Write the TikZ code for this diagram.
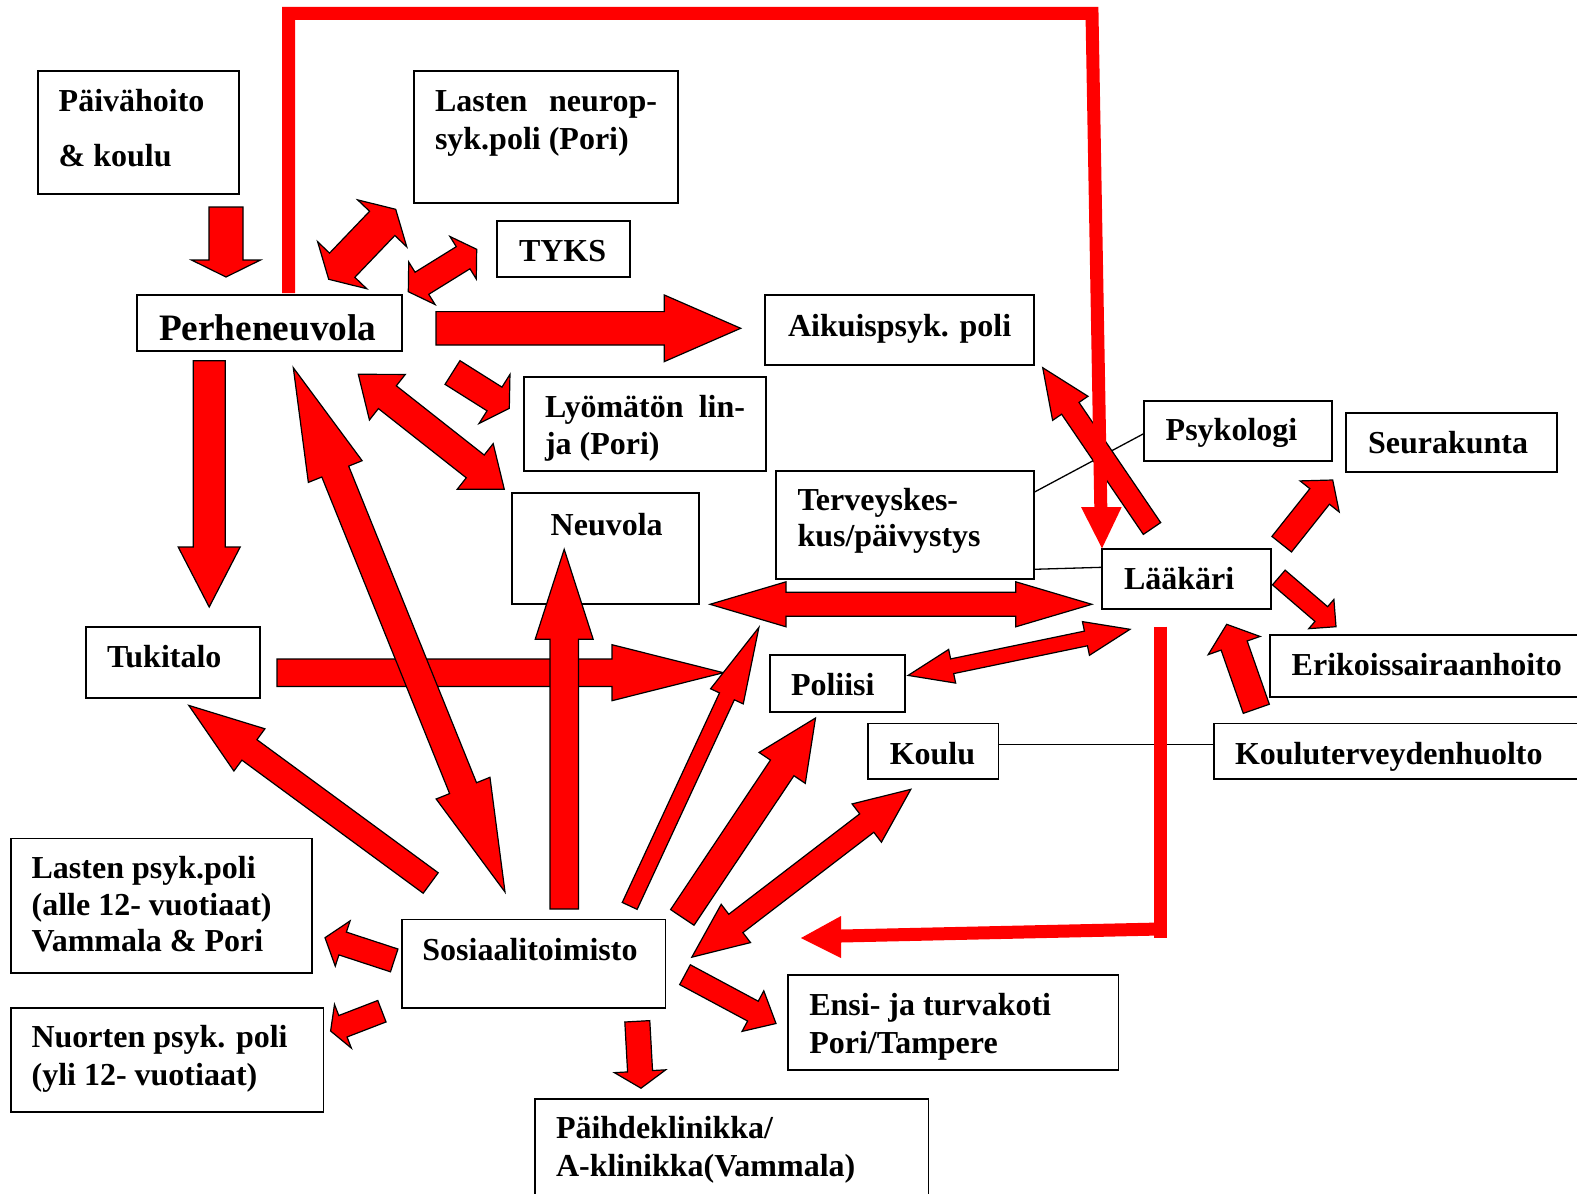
\documentclass[tikz,border=0pt]{standalone}
\usepackage{fontspec}
\setmainfont{Liberation Serif}
\usetikzlibrary{calc}
% single block arrow: #1 start, #2 tip, #3 shaft half width, #4 head half width, #5 head length
\newcommand\sarr[5]{\filldraw[barrow] ($(#1)!#3!90:(#2)$) -- ($(#2)!#5!(#1)!#3!-90:(#1)$) -- ($(#2)!#5!(#1)!#4!-90:(#1)$) -- (#2) -- ($(#2)!#5!(#1)!#4!90:(#1)$) -- ($(#2)!#5!(#1)!#3!90:(#1)$) -- ($(#1)!#3!-90:(#2)$) -- cycle;}
% double block arrow
\newcommand\darr[5]{\filldraw[barrow] (#1) -- ($(#1)!#5!(#2)!#4!90:(#2)$) -- ($(#1)!#5!(#2)!#3!90:(#2)$) -- ($(#2)!#5!(#1)!#3!-90:(#1)$) -- ($(#2)!#5!(#1)!#4!-90:(#1)$) -- (#2) -- ($(#2)!#5!(#1)!#4!90:(#1)$) -- ($(#2)!#5!(#1)!#3!90:(#1)$) -- ($(#1)!#5!(#2)!#3!-90:(#2)$) -- ($(#1)!#5!(#2)!#4!-90:(#2)$) -- cycle;}
\newcommand\bx[5]{\node[box, minimum width={(#4-#2)*1pt}, minimum height={(#5-#3)*1pt}] (#1) at (#2,#3) {};}
\begin{document}
\begin{tikzpicture}[x=1pt,y=-1pt,
  box/.style={draw=black, line width=1.6pt, fill=white, inner sep=0pt, outer sep=0pt, anchor=north west},
  txt/.style={anchor=base west, inner sep=0pt, outer sep=0pt, font=\fontsize{32}{36}\selectfont\bfseries},
  bigtxt/.style={txt, font=\fontsize{37.3}{42}\selectfont\bfseries},
  barrow/.style={fill=red, draw=black, line width=1.2pt, line join=miter},
  redline/.style={draw=red, line width=13pt, line join=miter},
  thin/.style={draw=black, line width=1.3pt}]
\fill[white] (0,0) rectangle (1577,1194);
\useasboundingbox (0,0) rectangle (1577,1194);

% ---------- boxes ----------
\bx{paiva}{38}{71}{239}{194}
\bx{lneuro}{414}{71}{678}{203}
\bx{tyks}{497}{221}{630}{277}
\bx{perhe}{137}{295}{402}{351}
\bx{aikuis}{765}{295}{1034}{365}
\bx{lyom}{524}{377}{766}{471}
\bx{psyk}{1144}{401}{1332}{461}
\bx{seura}{1346}{413}{1557}{472}
\bx{terv}{776}{471}{1034}{579}
\bx{neuv}{512}{493}{699}{604}
\bx{laak}{1102}{549}{1271}{609}
\bx{tuki}{86}{627}{260}{698}
\bx{polii}{770}{655}{905}{712}
\bx{erik}{1270}{635}{1595}{697}
\bx{kterv}{1214}{723.5}{1595}{779}
\bx{koulu}{868}{723.5}{998.5}{779}
\bx{lpsyk}{11}{838.5}{312}{973}
\bx{nuort}{11}{1008}{323.5}{1112}
\bx{sosi}{402}{919.5}{665.5}{1008}
\bx{ensi}{788}{975}{1118.5}{1070}
\bx{paihde}{534.7}{1099}{928.4}{1210}

% ---------- texts ----------
\node[txt] (t-paiva1) at (58.7,111.7) {Päivähoito};
\node[txt] (t-paiva2) at (58.7,166.7) {\& koulu};
\node[txt] (t-lneuro1) at (435,111.7) {\hbox to 222pt{Lasten\hfill neurop-}};
\node[txt] (t-lneuro2) at (435,149) {syk.poli (Pori)};
\node[txt] (t-tyks) at (519,261.7) {TYKS};
\node[bigtxt] (t-perhe) at (159,340) {Perheneuvola};
\node[txt] (t-aikuis) at (788,336) {Aikuispsyk. poli};
\node[txt] (t-lyom1) at (545,417.7) {\hbox to 200pt{Lyömätön\hfill lin-}};
\node[txt] (t-lyom2) at (545,454) {ja (Pori)};
\node[txt] (t-psyk) at (1165.7,440) {Psykologi};
\node[txt] (t-seura) at (1368,453.3) {Seurakunta};
\node[txt] (t-terv1) at (797.5,510) {Terveyskes-};
\node[txt] (t-terv2) at (797.5,546.7) {kus/päivystys};
\node[txt] (t-neuv) at (550.7,535) {Neuvola};
\node[txt] (t-laak) at (1124,589) {Lääkäri};
\node[txt] (t-tuki) at (107,667.6) {Tukitalo};
\node[txt] (t-polii) at (791,695) {Poliisi};
\node[txt] (t-erik) at (1291.7,675) {Erikoissairaanhoito};
\node[txt] (t-koulu) at (889.8,764) {Koulu};
\node[txt] (t-kterv) at (1235,764) {Kouluterveydenhuolto};
\node[txt] (t-lpsyk1) at (31.6,878) {Lasten psyk.poli};
\node[txt] (t-lpsyk2) at (31.6,915) {(alle 12- vuotiaat)};
\node[txt] (t-lpsyk3) at (31.6,951) {Vammala \& Pori};
\node[txt] (t-sosi) at (422.4,960.4) {Sosiaalitoimisto};
\node[txt] (t-nuort1) at (31.6,1047) {Nuorten psyk. poli};
\node[txt] (t-nuort2) at (31.6,1085.6) {(yli 12- vuotiaat)};
\node[txt] (t-ensi1) at (809.3,1015) {Ensi- ja turvakoti};
\node[txt] (t-ensi2) at (809.3,1053) {Pori/Tampere};
\node[txt] (t-paihde1) at (556,1138) {Päihdeklinikka/};
\node[txt] (t-paihde2) at (556,1176.5) {A-klinikka(Vammala)};

% ---------- thin connecting lines ----------
\coordinate (tv-e1) at (1034,492.3);
\coordinate (ps-w) at (1144,433.5);
\coordinate (tv-e2) at (1034,569.3);
\coordinate (lk-w) at (1102,567.3);
\coordinate (ko-e) at (998.5,744.3);
\coordinate (kt-w) at (1214,744.3);
\draw[thin] (tv-e1) -- (ps-w);
\draw[thin] (tv-e2) -- (lk-w);
\draw[thin] (ko-e) -- (kt-w);

% ---------- arrow end points ----------
\coordinate (a1s) at (226,207);      \coordinate (a1e) at (226,277);
\coordinate (a2s) at (328.7,279.3);  \coordinate (a2e) at (395.7,209.3);
\coordinate (a3s) at (408.3,291.7);  \coordinate (a3e) at (476.7,249.3);
\coordinate (a4s) at (436,328.3);    \coordinate (a4e) at (740.7,328.3);
\coordinate (a5s) at (452.5,372.5);  \coordinate (a5e) at (509.3,408.3);
\coordinate (a6s) at (358.3,374.3);  \coordinate (a6e) at (504.3,489.3);
\coordinate (a7s) at (209.2,360.7);  \coordinate (a7e) at (209.2,607);
\coordinate (a8s) at (293.3,367.7);  \coordinate (a8e) at (505,892);
\coordinate (a9s) at (277,672.7);    \coordinate (a9e) at (723.5,672.7);
\coordinate (a10s) at (564.2,909);   \coordinate (a10e) at (564.2,549.3);
\coordinate (a11s) at (710,604.3);   \coordinate (a11e) at (1091.8,604.3);
\coordinate (a12s) at (629.7,905.9); \coordinate (a12e) at (758.9,627.4);
\coordinate (a13s) at (682.3,917.4); \coordinate (a13e) at (815.5,718);
\coordinate (a14s) at (691.8,957.2); \coordinate (a14e) at (910.8,789.3);
\coordinate (a15s) at (685,974.7);   \coordinate (a15e) at (776,1023.5);
\coordinate (a16s) at (637.3,1021.3);\coordinate (a16e) at (641,1088.2);
\coordinate (a17s) at (394.2,960.4); \coordinate (a17e) at (325,937.7);
\coordinate (a18s) at (381.9,1011.2);\coordinate (a18e) at (330.6,1031);
\coordinate (a19s) at (430.7,883);   \coordinate (a19e) at (188.8,705.4);
\coordinate (a20s) at (1152,528.5);  \coordinate (a20e) at (1042.7,367.7);
\coordinate (a21s) at (1281.7,544.2);\coordinate (a21e) at (1332.7,480);
\coordinate (a22s) at (1278.8,577.5);\coordinate (a22e) at (1336,626.7);
\coordinate (a23s) at (1256.3,708.8);\coordinate (a23e) at (1226.7,624.3);
\coordinate (a24s) at (908.1,675.4); \coordinate (a24e) at (1130,629.3);

% ---------- block arrows ----------
\sarr{a1s}{a1e}{17pt}{34.5pt}{17pt}
\darr{a2s}{a2e}{17.5pt}{34pt}{19.5pt}
\darr{a3s}{a3e}{13pt}{25pt}{16pt}
\sarr{a4s}{a4e}{16.7pt}{33.3pt}{76.4pt}
\sarr{a5s}{a5e}{14pt}{29pt}{17.5pt}
\darr{a6s}{a6e}{14.5pt}{29pt}{37pt}
\sarr{a7s}{a7e}{16pt}{31pt}{60pt}
\sarr{a9s}{a9e}{13.7pt}{28pt}{111.5pt}
\darr{a8s}{a8e}{14.5pt}{29pt}{112pt}
\sarr{a10s}{a10e}{14.2pt}{29pt}{90pt}
\darr{a11s}{a11e}{12pt}{22.5pt}{76pt}
\sarr{a12s}{a12e}{8.2pt}{18pt}{76pt}
\sarr{a13s}{a13e}{14.1pt}{27.8pt}{60pt}
\darr{a14s}{a14e}{11.6pt}{24.1pt}{55.5pt}
\sarr{a15s}{a15e}{11.25pt}{23pt}{26.2pt}
\sarr{a16s}{a16e}{12.5pt}{25.7pt}{17pt}
\sarr{a17s}{a17e}{12pt}{23.8pt}{18.6pt}
\sarr{a18s}{a18e}{11.5pt}{23.4pt}{13.2pt}
\sarr{a19s}{a19e}{12.7pt}{26.2pt}{75.2pt}
\sarr{a20s}{a20e}{10.5pt}{21.4pt}{49.1pt}
\sarr{a21s}{a21e}{12.5pt}{25pt}{21pt}
\sarr{a22s}{a22e}{9.7pt}{19.3pt}{19.4pt}
\sarr{a23s}{a23e}{13.8pt}{27.5pt}{22.5pt}
\darr{a24s}{a24e}{7.5pt}{17.2pt}{45pt}

% ---------- red feedback lines ----------
\coordinate (r1a) at (288.5,293);
\coordinate (r1b) at (288.5,13.3);
\coordinate (r1c) at (1092,13.3);
\coordinate (r1d) at (1100.8,507);
\coordinate (r1t) at (1102,548.3);
\draw[redline] (r1a) -- (r1b) -- (r1c) -- (r1d);
\fill[red] (1081,507) -- (1121.7,507) -- (r1t) -- cycle;

\coordinate (r2a) at (1160,626.7);
\coordinate (r2b) at (1160,929);
\coordinate (r2c) at (841,936);
\coordinate (r2t) at (801,938);
\draw[redline] (r2a) -- (1160,938);
\draw[redline] (r2b) -- (r2c);
\fill[red] (841,916) -- (841,958) -- (r2t) -- cycle;
\end{tikzpicture}
\end{document}
